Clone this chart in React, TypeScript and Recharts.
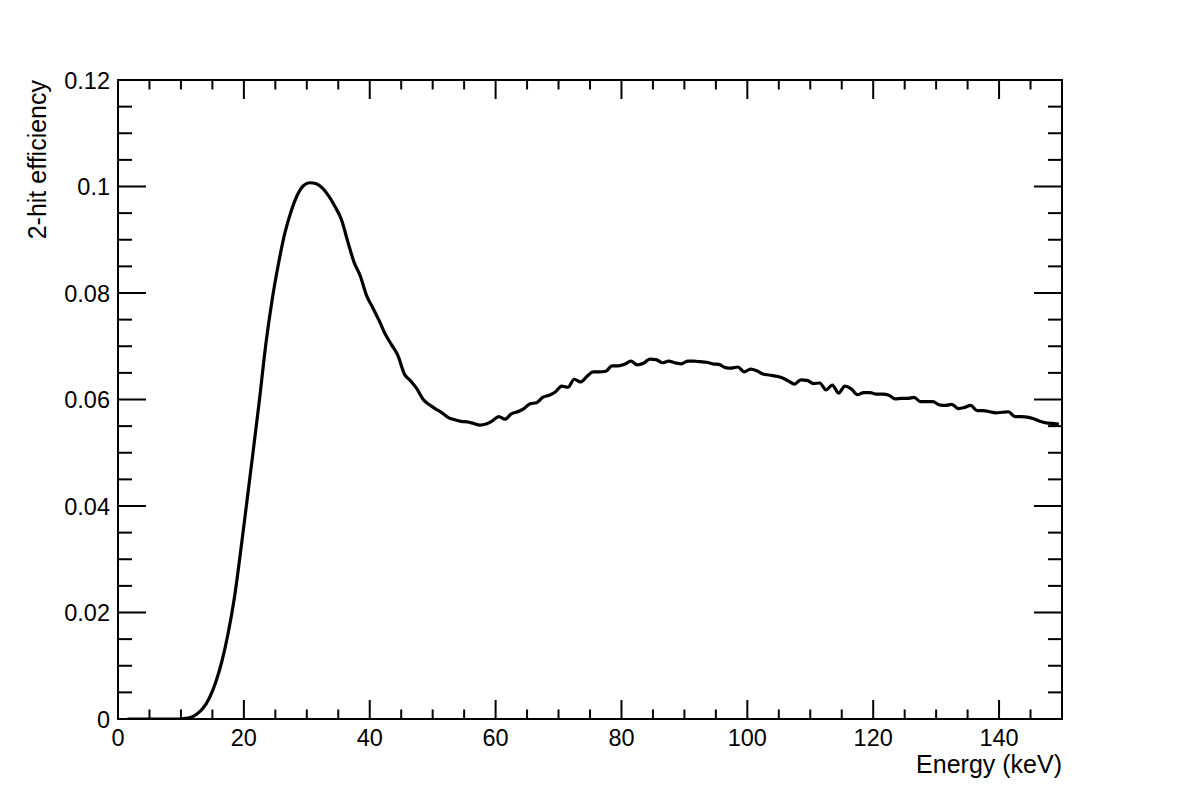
import React from 'react';
import { LineChart, Line, XAxis, YAxis } from 'recharts';

// histogram bins: 1 keV wide, first bin centre at 1.5 keV
const binStart = 1.5;
const efficiency = [
  0, 0, 0, 0, 0, 0, 0, 0, 0, 0.0001,
  0.0003, 0.0009, 0.002, 0.0039, 0.0068, 0.0108, 0.0161, 0.0228, 0.0316, 0.041,
  0.0505, 0.0602, 0.0705, 0.0788, 0.0855, 0.0912, 0.0953, 0.0984, 0.1002, 0.1007,
  0.1005, 0.0997, 0.0982, 0.0962, 0.0938, 0.0897, 0.0858, 0.0832, 0.0795, 0.0772,
  0.0748, 0.0722, 0.0702, 0.0682, 0.0648, 0.0635, 0.062, 0.06, 0.059, 0.0582,
  0.0575, 0.0566, 0.0562, 0.0559, 0.0558, 0.0555, 0.0552, 0.0554, 0.056, 0.0568,
  0.0563, 0.0573, 0.0577, 0.0583, 0.0592, 0.0594, 0.0604, 0.0608, 0.0614, 0.0625,
  0.0623, 0.0638, 0.0633, 0.0643, 0.0652, 0.0652, 0.0653, 0.0663, 0.0663, 0.0666,
  0.0672, 0.0665, 0.0668, 0.0676, 0.0675, 0.0669, 0.0672, 0.0669, 0.0667, 0.0672,
  0.0672, 0.0671, 0.067, 0.0667, 0.0666, 0.066, 0.0659, 0.0661, 0.0652, 0.0657,
  0.0654, 0.0648, 0.0646, 0.0644, 0.0641, 0.0635, 0.0629, 0.0637, 0.0636, 0.063,
  0.0631, 0.0618, 0.0627, 0.0612, 0.0625, 0.062, 0.0609, 0.0613, 0.0613, 0.061,
  0.061, 0.0608, 0.0601, 0.0602, 0.0602, 0.0604, 0.0596, 0.0596, 0.0596, 0.059,
  0.0589, 0.0591, 0.0583, 0.0585, 0.0589, 0.0579, 0.0579, 0.0577, 0.0575, 0.0576,
  0.0577, 0.0568, 0.0568, 0.0567, 0.0564, 0.0559, 0.0556, 0.0555, 0.0554,
];

const xTicks = [
  0, 5, 10, 15, 20, 25, 30, 35, 40, 45, 50, 55, 60, 65, 70, 75,
  80, 85, 90, 95, 100, 105, 110, 115, 120, 125, 130, 135, 140, 145, 150,
];
const xLabels = [0, 20, 40, 60, 80, 100, 120, 140];
const yTicks = [
  0, 0.005, 0.01, 0.015, 0.02, 0.025, 0.03, 0.035, 0.04, 0.045, 0.05, 0.055,
  0.06, 0.065, 0.07, 0.075, 0.08, 0.085, 0.09, 0.095, 0.1, 0.105, 0.11, 0.115, 0.12,
];
const yLabels = ['0', '0.02', '0.04', '0.06', '0.08', '0.1', '0.12'];

const data = efficiency.map((v, i) => ({ e: binStart + i, v }));

const FONT = '"Liberation Sans", Arial, Helvetica, sans-serif';
const LABEL_SIZE = 23.5;
const TITLE_SIZE = 25;

const findYLabel = (v: number) => yLabels.find((l) => Math.abs(parseFloat(l) - v) < 1e-9);
const isXMajor = (v: number) => v % 20 === 0;

// ROOT style: ticks point inward, labels outside
function BottomTick(props: any) {
  const { x, payload } = props;
  const y = 719;
  const major = isXMajor(payload.value);
  return (
    <g>
      <line x1={x} y1={y} x2={x} y2={y - (major ? 19 : 9.5)} stroke="#000" strokeWidth={2} />
      {xLabels.includes(payload.value) && (
        <text x={x} y={y + 27} textAnchor="middle" fontSize={LABEL_SIZE} fontFamily={FONT} fill="#000">
          {payload.value}
        </text>
      )}
    </g>
  );
}

function TopTick(props: any) {
  const { x, payload } = props;
  const y = 80;
  const major = isXMajor(payload.value);
  return <line x1={x} y1={y} x2={x} y2={y + (major ? 19 : 9.5)} stroke="#000" strokeWidth={2} />;
}

function LeftTick(props: any) {
  const { y, payload } = props;
  const x = 118;
  const label = findYLabel(payload.value);
  return (
    <g>
      <line x1={x} y1={y} x2={x + (label ? 28 : 14)} y2={y} stroke="#000" strokeWidth={2} />
      {label && (
        <text x={x - 8} y={y + 8.5} textAnchor="end" fontSize={LABEL_SIZE} fontFamily={FONT} fill="#000">
          {label}
        </text>
      )}
    </g>
  );
}

function RightTick(props: any) {
  const { y, payload } = props;
  const x = 1062;
  const major = !!findYLabel(payload.value);
  return <line x1={x} y1={y} x2={x - (major ? 28 : 14)} y2={y} stroke="#000" strokeWidth={2} />;
}

export default function App() {
  return (
    <div style={{ position: 'absolute', left: 0, top: 0, width: 1182, height: 800, background: '#fff' }}>
      <LineChart
        width={1182}
        height={800}
        data={data}
        margin={{ top: 79, right: 119, bottom: 80, left: 117 }}
      >
        <XAxis
          dataKey="e"
          type="number"
          domain={[0, 150]}
          ticks={xTicks}
          interval={0}
          height={1}
          tickSize={0}
          tickMargin={0}
          tickLine={false}
          axisLine={false}
          tick={<BottomTick />}
          allowDataOverflow
        />
        <XAxis
          xAxisId="top"
          orientation="top"
          dataKey="e"
          type="number"
          domain={[0, 150]}
          ticks={xTicks}
          interval={0}
          height={1}
          tickSize={0}
          tickMargin={0}
          tickLine={false}
          axisLine={false}
          tick={<TopTick />}
          allowDataOverflow
        />
        <YAxis
          type="number"
          domain={[0, 0.12]}
          ticks={yTicks}
          interval={0}
          width={1}
          tickSize={0}
          tickMargin={0}
          tickLine={false}
          axisLine={false}
          tick={<LeftTick />}
          allowDataOverflow
        />
        <YAxis
          yAxisId="right"
          orientation="right"
          type="number"
          domain={[0, 0.12]}
          ticks={yTicks}
          interval={0}
          width={1}
          tickSize={0}
          tickMargin={0}
          tickLine={false}
          axisLine={false}
          tick={<RightTick />}
          allowDataOverflow
        />
        <Line
          dataKey="v"
          type="monotone"
          stroke="#000"
          strokeWidth={3.2}
          dot={false}
          activeDot={false}
          isAnimationActive={false}
        />
        <rect x={118} y={80} width={944} height={639} fill="none" stroke="#000" strokeWidth={2} />
        <text x={1062} y={773} textAnchor="end" fontSize={TITLE_SIZE} fontFamily={FONT} fill="#000">
          Energy (keV)
        </text>
        <text
          x={46}
          y={80}
          transform="rotate(-90 46 80)"
          textAnchor="end"
          fontSize={TITLE_SIZE}
          fontFamily={FONT}
          fill="#000"
        >
          2-hit efficiency
        </text>
      </LineChart>
    </div>
  );
}
